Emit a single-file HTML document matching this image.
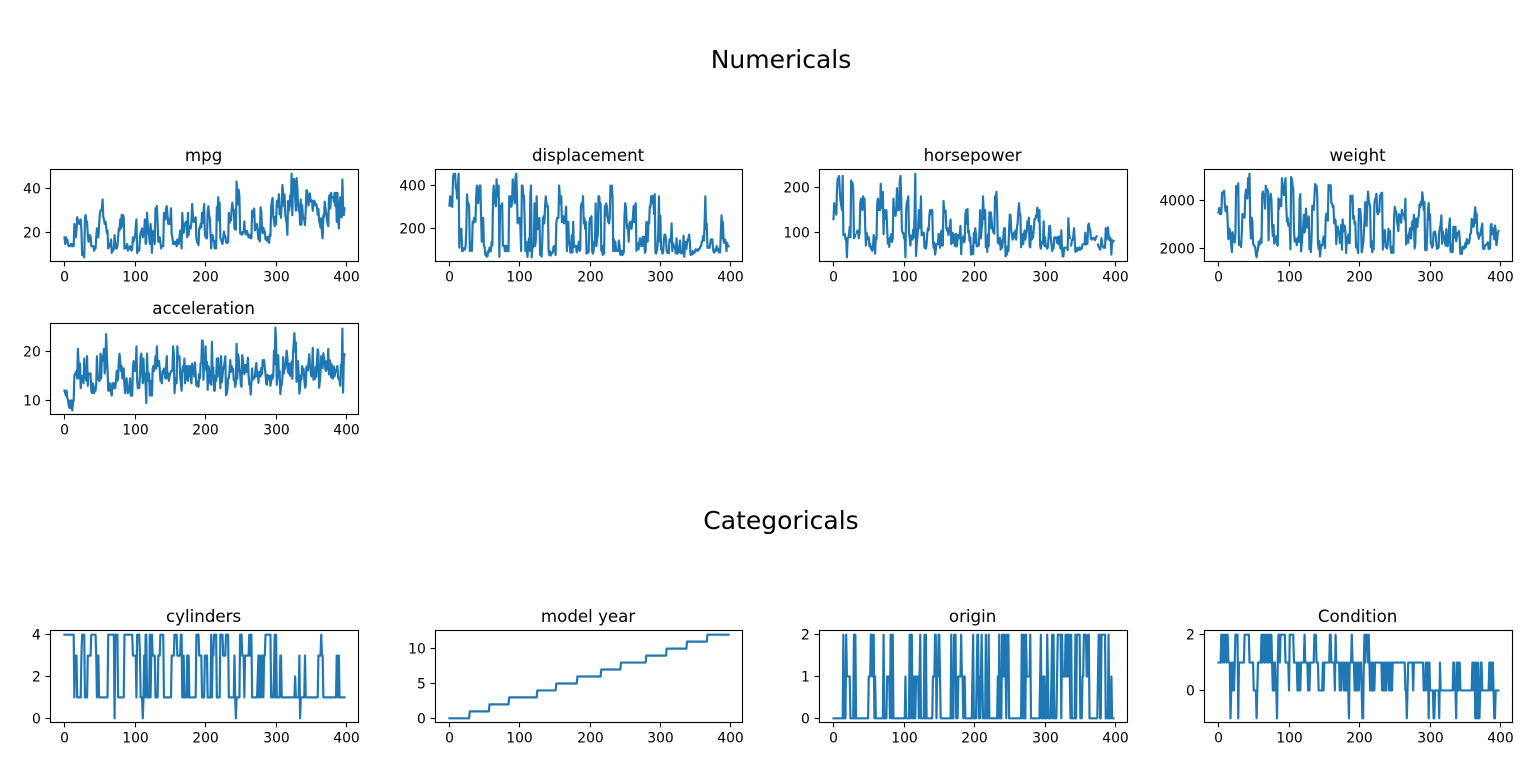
<!DOCTYPE html>
<html lang="en">
<head>
<meta charset="utf-8">
<title>Numericals and Categoricals</title>
<style>
html,body{margin:0;padding:0;background:#fff;}
svg{display:block;font-family:"DejaVu Sans","Liberation Sans",sans-serif;}
</style>
</head>
<body>
<svg id="figure" xmlns="http://www.w3.org/2000/svg" width="1536" height="761" viewBox="0 0 1536 761">
<rect x="0" y="0" width="1536" height="761" fill="#ffffff"/>
<text x="781" y="68" font-size="25" text-anchor="middle" fill="#000">Numericals</text>
<text x="781" y="529" font-size="25" text-anchor="middle" fill="#000">Categoricals</text>
</svg>
<script>
const xTickLabels = [0,100,200,300,400];

const mpgValues = [18,15,18,16,17,15,14,14,14,15,15,14,15,14,24,22,18,21,27,26,25,24,25,26,21,10,10,11,9,27,28,25,25,19,16,17,19,18,14,14,14,14,12,13,13,18,22,19,18,23,28,30,30,31,35,27,26,24,25,23,20,21,13,14,15,14,17,11,13,12,13,19,15,13,13,14,18,22,21,26,22,28,23,28,27,13,14,13,14,15,12,13,13,14,13,12,13,18,16,18,18,23,26,11,12,13,12,18,20,21,22,18,19,21,26,15,16,29,24,20,19,15,24,20,11,20,21,19,15,31,26,32,25,16,16,18,16,13,14,14,14,29,26,26,31,32,28,24,26,24,26,31,19,18,15,15,16,15,16,14,17,16,15,18,21,20,13,29,23,20,23,24,25,24,18,29,19,23,23,22,25,33,28,25,25,26,27,17.5,16,15.5,14.5,22,22,24,22.5,29,24.5,29,33,20,18,18.5,17.5,29.5,32,28,26.5,20,13,19,19,16.5,16.5,13,13,13,31.5,30,36,25.5,33.5,17.5,17,15.5,15,17.5,20.5,19,18.5,16,15.5,15.5,16,29,24.5,26,25.5,30.5,33.5,30,30.5,22,21.5,21.5,43.1,36.1,32.8,39.4,36.1,19.9,19.4,20.2,19.2,20.5,20.2,25.1,20.5,19.4,20.6,20.8,18.6,18.1,19.2,17.7,18.1,17.5,30,27.5,27.2,30.9,21.1,23.2,23.8,23.9,20.3,17,21.6,16.2,31.5,29.5,21.5,19.8,22.3,20.2,20.6,17,17.6,16.5,18.2,16.9,15.5,19.2,18.5,31.9,34.1,35.7,27.4,25.4,23,27.2,23.9,34.2,34.5,31.8,37.3,28.4,28.8,26.8,33.5,41.5,38.1,32.1,37.2,28,26.4,24.3,19.1,34.3,29.8,31.3,37,32.2,46.6,27.9,40.8,44.3,43.4,36.4,30,44.6,40.9,33.8,29.8,32.7,23.7,35,23.6,32.4,27.2,26.6,25.8,23.5,30,39.1,39,35.1,32.3,37,37.7,34.1,34.7,34.4,29.9,33,34.5,33.7,32.4,32.9,31.6,28.1,30.7,25.4,24.2,22.4,26.6,20.2,17.6,28,27,34,31,29,27,24,23,36,37,31,38,36,36,36,34,38,32,38,25,38,26,22,32,36,27,27,44,32,28,31];
const mpgTicks = [20,40];

const displacementValues = [307,350,318,304,302,429,454,440,455,390,383,340,400,455,113,198,199,200,97,97,110,107,104,121,199,360,307,318,304,97,140,113,98,232,225,250,250,232,350,400,351,318,383,400,400,258,140,250,250,122,116,79,88,71,72,97,91,113,97.5,97,140,122,350,400,318,351,304,429,350,350,400,70,304,307,302,318,121,121,120,96,122,97,120,98,97,350,304,350,302,318,429,400,351,318,440,455,360,225,250,232,250,198,97,400,400,360,350,232,97,140,108,70,122,155,98,350,400,68,116,114,121,318,121,156,350,198,200,232,250,79,122,71,140,250,258,225,302,350,318,302,304,98,79,97,76,83,90,90,116,120,108,79,225,250,250,250,400,350,318,351,231,250,258,225,231,262,302,97,140,232,140,134,90,119,171,90,232,115,120,121,121,91,107,116,140,98,101,305,318,304,351,225,250,200,232,85,98,90,91,225,250,250,258,97,85,97,140,130,318,120,156,168,350,350,302,318,98,111,79,122,85,305,260,318,302,250,231,225,250,400,350,400,351,97,151,97,140,98,98,97,97,146,121,80,90,98,78,85,91,260,318,302,231,200,200,140,225,232,231,200,225,258,305,231,302,318,98,134,119,105,134,156,151,119,131,163,121,163,89,98,231,200,140,232,225,305,302,351,318,350,351,267,360,89,86,98,121,183,350,141,260,105,105,85,91,151,173,173,151,98,89,98,86,151,140,151,225,97,134,120,119,108,86,156,85,90,90,121,146,91,85,97,89,168,70,122,140,107,135,151,156,173,135,79,86,81,97,85,89,91,105,98,98,105,100,107,108,119,120,141,145,168,146,231,350,200,225,112,112,112,112,135,151,140,151,105,91,91,105,98,120,107,108,91,91,91,181,262,156,232,144,135,151,140,97,135,120,119];
const displacementTicks = [200,400];

const horsepowerValues = [130,165,150,150,140,198,220,215,225,190,170,160,150,225,95,95,97,85,88,46,87,90,95,113,90,215,200,210,193,88,90,95,null,100,105,100,88,100,165,175,153,150,180,170,175,110,72,100,88,86,90,70,76,65,69,60,70,95,80,54,90,86,165,175,150,153,150,208,155,160,190,97,150,130,140,150,112,76,87,69,86,92,97,80,88,175,150,145,137,150,198,150,158,150,215,225,175,105,100,100,88,95,46,150,167,170,180,100,88,72,94,90,85,107,90,145,230,49,75,91,112,150,110,122,180,95,null,100,100,67,80,65,75,100,110,105,140,150,150,140,150,83,67,78,52,61,75,75,75,97,93,67,95,105,72,72,170,145,150,148,110,105,110,95,110,110,129,75,83,100,78,96,71,97,97,70,90,95,88,98,115,53,86,81,92,79,83,140,150,120,152,100,105,81,90,52,60,70,53,100,78,110,95,71,70,75,72,102,150,88,108,120,180,145,130,150,68,80,58,96,70,145,110,145,130,110,105,100,98,180,170,190,149,78,88,75,89,63,83,67,78,97,110,110,48,66,52,70,60,110,140,139,105,95,85,88,100,90,105,85,110,120,145,165,139,140,68,95,97,75,95,105,85,97,103,125,115,133,71,68,115,85,88,90,110,130,129,138,135,155,142,125,150,71,65,80,80,77,125,71,90,70,70,65,69,90,115,115,90,76,60,70,65,90,88,90,90,78,90,75,92,75,65,105,65,48,48,67,67,67,null,67,62,132,100,88,null,72,84,84,92,110,84,58,64,60,67,65,62,68,63,65,65,74,null,75,75,100,74,80,76,116,120,110,105,88,85,88,88,88,85,84,90,92,null,74,68,68,63,70,88,75,70,67,67,67,110,85,92,112,96,84,90,86,52,84,79,82];
const horsepowerTicks = [100,200];

const weightValues = [3504,3693,3436,3433,3449,4341,4354,4312,4425,3850,3563,3609,3761,3086,2372,2833,2774,2587,2130,1835,2672,2430,2375,2234,2648,4615,4376,4382,4732,2130,2264,2228,2046,2634,3439,3329,3302,3288,4209,4464,4154,4096,4955,4746,5140,2962,2408,3282,3139,2220,2123,2074,2065,1773,1613,1834,1955,2278,2126,2254,2408,2226,4274,4385,4135,4129,3672,4633,4502,4456,4422,2330,3892,4098,4294,4077,2933,2511,2979,2189,2395,2288,2506,2164,2100,4100,3672,3988,4042,3777,4952,4464,4363,4237,4735,4951,3821,3121,3278,2945,3021,2904,1950,4997,4906,4654,4499,2789,2279,2401,2379,2124,2310,2472,2265,4082,4278,1867,2158,2582,2868,3399,2660,2807,3664,3102,2875,2901,3336,1950,2451,1836,2542,3781,3632,3613,4141,4699,4457,4638,4257,2219,1963,2300,1649,2003,2125,2108,2246,2489,2391,2000,3264,3459,3432,3158,4668,4440,4498,4657,3907,3897,3730,3785,3039,3221,3169,2171,2639,2914,2592,2702,2223,2545,2984,1937,3211,2694,2957,2945,2671,1795,2464,2220,2572,2255,2202,4215,4190,3962,4215,3233,3353,3012,3085,2035,2164,1937,1795,3651,3574,3645,3193,1825,1990,2155,2565,3150,3940,3270,2930,3820,4380,4055,3870,3755,2045,2155,1825,2300,1945,3880,4060,4140,4295,3520,3425,3630,3525,4220,4165,4325,4335,1940,2740,2265,2755,2051,2075,1985,2190,2815,2600,2720,1985,1800,1985,2070,1800,3365,3735,3570,3535,3155,2965,2720,3430,3210,3380,3070,3620,3410,3425,3445,3205,4080,2155,2560,2300,2230,2515,2745,2855,2405,2830,3140,2795,3410,1990,2135,3245,2990,2890,3265,3360,3840,3725,3955,3830,4360,4054,3605,3940,1925,1975,1915,2670,3530,3900,3190,3420,2200,2150,2020,2130,2670,2595,2700,2556,2144,1968,2120,2019,2678,2870,3003,3381,2188,2711,2542,2434,2265,2110,2800,2110,2085,2335,2950,3250,1850,1835,2145,1845,2910,2420,2500,2905,2290,2490,2635,2620,2725,2385,1755,1875,1760,2065,1975,2050,1985,2215,2045,2380,2190,2320,2210,2350,2615,2635,3230,3160,2900,2930,3415,3725,3060,3465,2605,2640,2395,2575,2525,2735,2865,3035,1980,2025,1970,2125,2125,2160,2205,2245,1965,1965,1995,2945,3015,2585,2835,2665,2370,2950,2790,2130,2295,2625,2720];
const weightTicks = [2000,4000];

const accelerationValues = [12,11.5,11,12,10.5,10,9,8.5,10,8.5,10,8,9.5,10,15,15.5,15.5,16,14.5,20.5,17.5,14.5,17.5,12.5,15,14,15,13.5,18.5,14.5,15.5,14,19,13,15.5,15.5,15.5,15.5,12,11.5,13.5,13,11.5,12,12,13.5,19,15,14.5,14,14,19.5,14.5,19,18,19,20.5,15.5,17,23.5,19.5,16.5,12,12,13.5,13,11.5,11,13.5,13.5,12.5,13.5,12.5,14,16,14,14.5,18,19.5,18,16,17,14.5,15,16.5,13,11.5,13,14.5,12.5,11.5,12,13,14.5,11,11,11,16.5,18,16,16.5,16,21,14,12.5,13,12.5,15,19,19.5,16.5,13.5,18.5,14,15.5,13,9.5,19.5,15.5,14,15.5,11,14,13.5,11,16.5,17,16,17,19,16.5,21,17,17,18,16.5,14,14.5,13.5,16,15.5,16.5,15.5,14.5,16.5,19,14.5,15.5,14,15,15.5,16,16,16,21,19.5,11.5,14,14.5,13.5,21,18.5,19,19,15,13.5,12,16,17,16,18.5,13.5,16.5,17,14.5,14,17,15,17,14.5,13.5,17.5,15.5,16.9,14.9,17.7,15.3,13,13,13.9,12.8,15.4,14.5,17.6,17.6,22.2,22.1,14.2,17.4,17.7,21,16.2,17.8,12.2,17,16.4,13.6,15.7,13.2,21.9,15.5,16.7,12.1,12,15,14,18.5,14.8,18.6,15.5,16.8,12.5,19,13.7,14.9,16.4,16.9,17.7,19,11.1,11.4,12.2,14.5,14.5,16,18.2,15.8,17,15.9,16.4,14.1,14.5,12.8,13.5,21.5,14.4,19.4,18.6,16.4,15.5,13.2,12.8,19.2,18.2,15.8,15.4,17.2,17.2,15.8,16.7,18.7,15.1,13.2,13.4,11.2,13.7,16.5,14.2,14.7,14.5,14.8,16.7,17.6,14.9,15.9,13.6,15.7,15.8,14.9,16.6,15.4,18.2,17.3,18.2,16.6,15.4,13.4,13.2,15.2,14.9,14.3,15,13,14,15.2,14.4,15,20.1,17.4,24.8,22.2,13.2,14.9,19.2,14.7,16,11.3,12.9,13.2,14.7,18.8,15.5,16.4,16.5,18.1,20.1,18.7,15.8,15.5,17.5,15,15.2,17.9,14.4,19.2,21.7,23.7,19.9,21.8,13.8,17.3,18,15.3,11.4,12.5,15.1,14.3,17,15.7,16.4,14.4,12.6,12.9,16.9,16.4,16.1,17.8,19.4,17.3,16,14.9,16.2,20.7,14.2,15.8,14.4,16.8,14.8,18.3,20.4,19.6,12.6,13.8,15.8,19,17.1,16.6,19.6,18.6,18,16.2,16,18,16.4,20.5,15.3,18.2,17.6,14.7,17.3,14.5,14.5,16.9,15,15.7,16.2,16.4,17,14.5,14.7,13.9,13,17.3,15.6,24.6,11.6,18.6,19.4];
const accelerationTicks = [10,20];

const cylindersValues = [
4,4,4,4,4,4,4,4,4,4, 4,4,4,4,1,3,3,3,1,1, 1,1,1,1,3,4,4,4,4,1, 1,1,1,3,3,3,3,3,4,4,
4,4,4,4,4,3,1,3,3,1, 1,1,1,1,1,1,1,1,1,1, 1,1,4,4,4,4,4,4,4,4, 4,0,4,4,4,4,1,1,1,1,
1,1,1,1,1,4,4,4,4,4, 4,4,4,4,4,4,4,3,3,3, 3,3,1,4,4,4,4,3,1,1, 1,0,1,3,1,4,4,1,1,1,
1,4,1,3,4,3,3,3,3,1, 1,1,1,3,3,3,4,4,4,4, 4,1,1,1,1,1,1,1,1,1, 1,1,3,3,3,3,4,4,4,4,
3,3,3,3,3,4,4,1,1,3, 1,1,1,1,3,1,3,1,1,1, 1,1,1,1,1,1,1,4,4,4, 4,3,3,3,3,1,1,1,1,3,
3,3,3,1,1,1,1,1,4,1, 3,3,4,4,4,4,1,1,1,1, 1,4,4,4,4,3,3,3,3,4, 4,4,4,1,1,1,1,1,1,1,
1,3,1,0,1,1,1,1,1,4, 4,4,3,3,3,1,3,3,3,3, 3,3,4,3,4,4,1,1,1,1, 1,1,1,1,2,3,1,3,1,1,
3,3,1,3,3,4,4,4,4,4, 4,4,4,1,1,1,1,2,4,1, 4,1,1,1,1,1,3,3,1,1, 1,1,1,1,1,1,1,1,1,1,
1,1,1,1,1,1,1,2,1,1, 1,1,1,3,0,1,1,1,1,1, 1,3,1,1,1,1,1,1,1,1, 1,1,1,1,1,1,1,1,1,1,
3,3,3,3,4,3,3,1,1,1, 1,1,1,1,1,1,1,1,1,1, 1,1,1,1,1,1,3,3,1,3, 1,1,1,1,1,1,1,1];
const cylindersTicks = [0,2,4];

const modelYearValues = [
0,0,0,0,0,0,0,0,0,0, 0,0,0,0,0,0,0,0,0,0, 0,0,0,0,0,0,0,0,0,
1,1,1,1,1,1,1,1,1,1, 1,1,1,1,1,1,1,1,1,1, 1,1,1,1,1,1,1,1,
2,2,2,2,2,2,2,2,2,2, 2,2,2,2,2,2,2,2,2,2, 2,2,2,2,2,2,2,2,
3,3,3,3,3,3,3,3,3,3, 3,3,3,3,3,3,3,3,3,3, 3,3,3,3,3,3,3,3,3,3, 3,3,3,3,3,3,3,3,3,3,
4,4,4,4,4,4,4,4,4,4, 4,4,4,4,4,4,4,4,4,4, 4,4,4,4,4,4,4,
5,5,5,5,5,5,5,5,5,5, 5,5,5,5,5,5,5,5,5,5, 5,5,5,5,5,5,5,5,5,5,
6,6,6,6,6,6,6,6,6,6, 6,6,6,6,6,6,6,6,6,6, 6,6,6,6,6,6,6,6,6,6, 6,6,6,6,
7,7,7,7,7,7,7,7,7,7, 7,7,7,7,7,7,7,7,7,7, 7,7,7,7,7,7,7,7,
8,8,8,8,8,8,8,8,8,8, 8,8,8,8,8,8,8,8,8,8, 8,8,8,8,8,8,8,8,8,8, 8,8,8,8,8,8,
9,9,9,9,9,9,9,9,9,9, 9,9,9,9,9,9,9,9,9,9, 9,9,9,9,9,9,9,9,9,
10,10,10,10,10,10,10,10,10,10, 10,10,10,10,10,10,10,10,10,10, 10,10,10,10,10,10,10,10,10,
11,11,11,11,11,11,11,11,11,11, 11,11,11,11,11,11,11,11,11,11, 11,11,11,11,11,11,11,11,11,
12,12,12,12,12,12,12,12,12,12, 12,12,12,12,12,12,12,12,12,12, 12,12,12,12,12,12,12,12,12,12, 12];
const modelYearTicks = [0,5,10];

const originValues = [
0,0,0,0,0,0,0,0,0,0, 0,0,0,0,2,0,0,0,2,1, 1,1,1,1,0,0,0,0,0,2, 0,2,0,0,0,0,0,0,0,0,
0,0,0,0,0,0,0,0,0,0, 1,1,1,2,2,1,1,2,0,1, 0,0,0,0,0,0,0,0,0,0, 0,2,0,0,0,0,1,1,1,1,
0,2,2,0,2,0,0,0,0,0, 0,0,0,0,0,0,0,0,0,0, 0,0,1,0,0,0,0,0,2,0, 2,2,0,0,1,0,0,1,1,1,
1,0,1,2,0,0,0,0,0,2, 0,2,0,0,0,0,0,0,0,0, 0,1,1,1,2,2,0,1,1,2, 2,1,0,0,0,0,0,0,0,0,
0,0,0,0,0,0,0,2,0,0, 0,2,1,2,0,1,0,1,1,1, 1,2,1,1,0,1,1,0,0,0, 0,0,0,0,0,0,0,1,2,0,
0,0,0,1,2,2,0,1,0,1, 2,1,0,0,0,0,2,0,1,0, 2,0,0,0,0,0,0,0,0,0, 0,0,0,1,0,2,0,0,0,2,
1,2,1,2,1,0,2,2,2,0, 0,0,0,0,0,0,0,0,0,0, 0,0,0,0,0,0,0,2,2,0, 2,0,0,2,1,1,1,1,1,2,
0,0,0,0,0,0,0,0,0,0, 0,0,0,1,2,0,0,1,0,1, 0,0,0,2,1,0,0,0,0,1, 2,0,2,0,0,0,0,1,2,2,
2,2,2,0,2,1,1,1,1,2, 1,2,1,2,2,1,0,2,0,0, 0,0,0,2,0,2,2,2,2,2, 0,0,0,1,1,2,2,2,2,1,
1,2,2,0,0,0,0,0,0,0, 0,0,0,0,0,1,2,2,0,0, 2,2,2,2,2,2,0,0,0,0, 2,0,0,0,1,0,0,0];
const originTicks = [0,1,2];

const conditionValues = [
1,1,1,1,2,1,2,2,1,2, 2,1,2,2,1,1,1,-1,0,1, 0,1,0,1,2,2,2,2,-1,1, 1,1,1,1,1,1,1,2,2,2,
2,2,2,2,1,1,1,1,1,1, 0,0,0,0,-1,0,1,1,1,1, 1,2,1,2,2,1,2,1,2,2, 1,1,2,2,1,2,1,0,1,0,
1,0,0,-1,1,2,2,1,2,2, 2,2,2,2,2,1,1,1,1,1, 0,2,2,2,2,2,2,1,1,1, 1,1,0,1,0,1,0,1,1,1,
1,1,2,1,1,1,1,0,1,0, 1,1,1,1,1,1,2,2,2,1, 1,1,0,0,0,0,0,0,1,0, 1,1,1,1,1,1,1,1,2,2,
1,1,1,1,1,0,2,1,1,1, 1,1,0,1,0,1,1,1,0,1, 0,1,0,1,0,-1,1,1,1,2, 1,1,1,0,1,0,1,0,1,0,
1,1,1,0,-1,-1,1,2,1,2, 2,2,1,2,1,0,1,0,1,0, 1,0,1,1,1,1,1,1,1,1, 1,1,0,1,0,1,0,1,0,1,
1,1,0,1,0,1,0,1,1,1, 1,1,1,1,1,1,1,1,1,1, 1,1,1,1,1,0,0,-1,0,1, 1,1,1,1,1,1,0,1,1,1,
1,1,1,1,1,1,1,1,1,1, 1,0,0,0,1,1,0,1,-1,1, 0,0,0,0,0,-1,-1,0,0,0, 0,0,0,-1,1,0,0,0,0,0,
0,0,0,0,0,0,0,0,0,0, 0,0,0,1,1,0,0,-1,1,1, 0,1,1,0,0,0,0,0,0,0, 0,0,0,0,0,0,0,0,0,0,
1,1,0,1,-1,1,-1,-1,1,-1, -1,0,1,1,0,0,0,0,0,0, 0,0,0,0,1,0,1,1,0,1, 0,-1,-1,0,0,0,0,0];
const conditionTicks = [0,2];

const panels = [
  {key:'mpg', title:'mpg', values:mpgValues, ticks:mpgTicks, left:50, right:358, top:169, bottom:261, titleY:161},
  {key:'displacement', title:'displacement', values:displacementValues, ticks:displacementTicks, left:435, right:742, top:169, bottom:261, titleY:161},
  {key:'horsepower', title:'horsepower', values:horsepowerValues, ticks:horsepowerTicks, left:819, right:1127, top:169, bottom:261, titleY:161},
  {key:'weight', title:'weight', values:weightValues, ticks:weightTicks, left:1204, right:1512, top:169, bottom:261, titleY:161},
  {key:'acceleration', title:'acceleration', values:accelerationValues, ticks:accelerationTicks, left:50, right:358, top:323, bottom:414, titleY:314},
  {key:'cylinders', title:'cylinders', values:cylindersValues, ticks:cylindersTicks, left:50, right:358, top:630, bottom:722, titleY:622},
  {key:'model-year', title:'model year', values:modelYearValues, ticks:modelYearTicks, left:435, right:742, top:630, bottom:722, titleY:622},
  {key:'origin', title:'origin', values:originValues, ticks:originTicks, left:819, right:1127, top:630, bottom:722, titleY:622},
  {key:'condition', title:'Condition', values:conditionValues, ticks:conditionTicks, left:1204, right:1512, top:630, bottom:722, titleY:622}
];

const NS = 'http://www.w3.org/2000/svg';
const figure = document.getElementById('figure');

function make(tag, attrs, parent) {
  const el = document.createElementNS(NS, tag);
  for (const k in attrs) el.setAttribute(k, attrs[k]);
  parent.appendChild(el);
  return el;
}

function scaleFor(d0, d1, r0, r1) {
  const pad = (d1 - d0) * 0.05;
  const lo = d0 - pad, hi = d1 + pad;
  return function (v) { return r0 + (v - lo) / (hi - lo) * (r1 - r0); };
}

panels.forEach(function (p) {
  const nums = p.values.filter(function (v) { return v !== null; });
  const xScale = scaleFor(0, p.values.length - 1, p.left + 0.5, p.right + 0.5);
  const yScale = scaleFor(Math.min.apply(null, nums), Math.max.apply(null, nums), p.bottom + 0.5, p.top + 0.5);

  const group = make('g', {}, figure);
  
  

  let d = '';
  let pen = false;
  p.values.forEach(function (v, i) {
    if (v === null) { pen = false; return; }
    d += (pen ? 'L' : 'M') + xScale(i).toFixed(2) + ' ' + yScale(v).toFixed(2);
    pen = true;
  });
  const line = make('path', {d: d, fill: 'none', stroke: '#1f77b4', 'stroke-width': 2.2, 'stroke-linejoin': 'round', 'stroke-linecap': 'square'}, group);
  
  

  const frame = make('rect', {x: p.left + 0.5, y: p.top + 0.5, width: p.right - p.left, height: p.bottom - p.top, fill: 'none', stroke: '#000', 'stroke-width': 1.11}, group);
  
  

  const title = make('text', {x: (p.left + p.right) / 2 - 0.4, y: p.titleY, 'font-size': 16.67, 'text-anchor': 'middle', fill: '#000'}, group);
  title.textContent = p.title;
  
  

  xTickLabels.forEach(function (t) {
    const px = Math.round(xScale(t) - 0.5) + 0.5;
    const tick = make('line', {x1: px, x2: px, y1: p.bottom + 0.5, y2: p.bottom + 5.4, stroke: '#000', 'stroke-width': 1.11}, group);
    
    
    const label = make('text', {x: px, y: p.bottom + 20.6, 'font-size': 13.89, 'text-anchor': 'middle', fill: '#000'}, group);
    label.textContent = t;
    
    
  });

  p.ticks.forEach(function (t) {
    const py = Math.round(yScale(t) - 0.5) + 0.5;
    const tick = make('line', {x1: p.left - 4.4, x2: p.left + 0.5, y1: py, y2: py, stroke: '#000', 'stroke-width': 1.11}, group);
    
    
    const label = make('text', {x: p.left - 9.2, y: py + 5, 'font-size': 13.89, 'text-anchor': 'end', fill: '#000'}, group);
    label.textContent = t;
    
    
  });
});
</script>
</body>
</html>
